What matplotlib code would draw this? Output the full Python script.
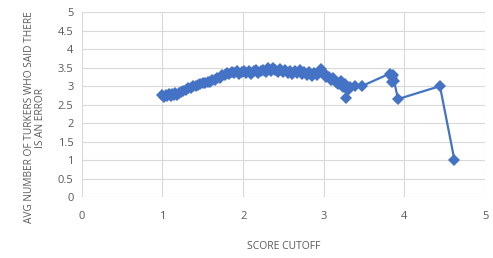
import matplotlib
matplotlib.use("Agg")
import matplotlib.pyplot as plt

# score cutoff vs avg number of turkers flagging an error
score_cutoff = [1.00, 1.02, 1.04, 1.06, 1.08, 1.10, 1.12, 1.14, 1.16, 1.18,
                1.20, 1.23, 1.26, 1.29, 1.32, 1.35, 1.38, 1.41, 1.44, 1.47,
                1.50, 1.53, 1.56, 1.59, 1.62, 1.65, 1.68, 1.71, 1.74, 1.77,
                1.80, 1.83, 1.86, 1.89, 1.92, 1.95, 1.98, 2.01, 2.04, 2.07,
                2.10, 2.13, 2.16, 2.19, 2.22, 2.25, 2.28, 2.31, 2.34, 2.37,
                2.40, 2.43, 2.46, 2.49, 2.52, 2.55, 2.58, 2.61, 2.64, 2.67,
                2.70, 2.73, 2.76, 2.79, 2.82, 2.85, 2.88, 2.91, 2.94, 2.97,
                3.00, 3.03, 3.06, 3.09, 3.12, 3.15, 3.18, 3.21, 3.24, 3.26,
                3.28, 3.30, 3.33, 3.39, 3.47, 3.82, 3.84, 3.86, 3.85, 3.87,
                3.92, 4.44, 4.62]
avg_turkers = [2.76, 2.71, 2.77, 2.72, 2.78, 2.73, 2.79, 2.75, 2.81, 2.77,
               2.82, 2.84, 2.88, 2.89, 2.94, 2.95, 2.99, 3.00, 3.04, 3.05,
               3.08, 3.08, 3.12, 3.12, 3.16, 3.17, 3.22, 3.23, 3.29, 3.31,
               3.36, 3.34, 3.39, 3.35, 3.40, 3.34, 3.39, 3.41, 3.35, 3.42,
               3.34, 3.40, 3.43, 3.35, 3.41, 3.44, 3.39, 3.48, 3.40, 3.49,
               3.43, 3.39, 3.46, 3.37, 3.43, 3.36, 3.42, 3.33, 3.41, 3.35,
               3.43, 3.32, 3.39, 3.30, 3.37, 3.27, 3.36, 3.29, 3.39, 3.45,
               3.35, 3.26, 3.24, 3.17, 3.22, 3.12, 3.06, 3.15, 2.97, 3.05,
               2.68, 2.90, 2.98, 3.00, 3.00, 3.34, 3.25, 3.30, 3.10, 3.15,
               2.65, 3.00, 1.00]

x_ticks = [0, 1, 2, 3, 4, 5]
y_ticks = [0, 0.5, 1, 1.5, 2, 2.5, 3, 3.5, 4, 4.5, 5]

plt.rcParams['font.family'] = ['Open Sans', 'DejaVu Sans']
text_col = '#595959'
blue = '#4472C4'

fig = plt.figure(figsize=(4.93, 2.58), dpi=100)
ax = fig.add_axes([0.166, 0.236, 0.818, 0.717])

ax.plot(score_cutoff, avg_turkers, color=blue, lw=1.6, marker='D',
        markersize=6.5, markeredgewidth=0, zorder=3)

ax.set_xlim(0, 5)
ax.set_ylim(0, 5)
ax.set_xticks(x_ticks)
ax.set_yticks(y_ticks)
ax.set_xticklabels([str(t) for t in x_ticks])
ax.set_yticklabels(['0', '0.5', '1', '1.5', '2', '2.5', '3', '3.5', '4', '4.5', '5'])
ax.grid(True, color='#d9d9d9', lw=0.8)
ax.set_axisbelow(True)
for s in ax.spines.values():
    s.set_visible(False)
ax.tick_params(axis='both', length=0, labelsize=8, colors=text_col)
ax.tick_params(axis='x', pad=10)
ax.tick_params(axis='y', pad=6)

ax.set_xlabel('SCORE CUTOFF', fontsize=7.5, color=text_col, labelpad=14)
ax.set_ylabel('AVG NUMBER OF TURKERS WHO SAID THERE\nIS AN ERROR',
              fontsize=7.3, color=text_col, linespacing=1.0)
ax.yaxis.set_label_coords(-0.09, 0.43)

fig.savefig('out.png', dpi=100)
